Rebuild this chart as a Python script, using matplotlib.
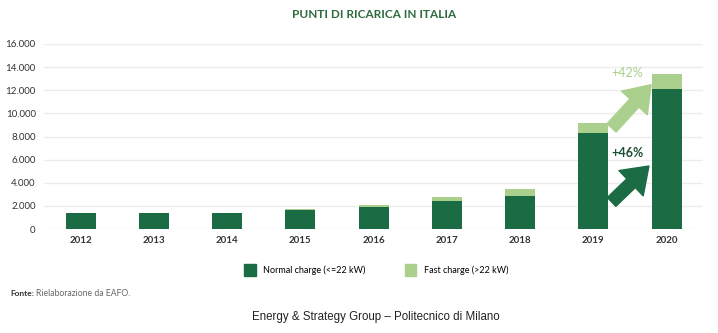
import matplotlib.pyplot as plt
import numpy as np
from matplotlib.patches import Patch

years = ['2012', '2013', '2014', '2015', '2016', '2017', '2018', '2019', '2020']
normal = [1350, 1350, 1350, 1650, 1900, 2400, 2850, 8300, 12150]
fast = [0, 0, 0, 50, 180, 350, 600, 900, 1280]
yticks = [0, 2000, 4000, 6000, 8000, 10000, 12000, 14000, 16000]
ytick_labels = ['0', '2.000', '4.000', '6.000', '8.000', '10.000', '12.000', '14.000', '16.000']

DARK = '#1b6b45'
LIGHT = '#abd08e'
TITLE = '#2e6a3f'

plt.rcParams['font.family'] = ['Lato', 'DejaVu Sans']

fig = plt.figure(figsize=(7.18, 3.33), dpi=100)
ax = fig.add_axes([0.0613, 0.312, 0.918, 0.556])

x = np.arange(len(years))
normal = np.array(normal)
fast = np.array(fast)
ax.bar(x, normal, width=0.41, color=DARK, zorder=2)
ax.bar(x, fast, width=0.41, bottom=normal, color=LIGHT, zorder=2)

ax.set_xlim(-0.5, len(years) - 0.5)
ax.set_ylim(0, 16000)
ax.set_yticks(yticks)
ax.set_yticklabels(ytick_labels, fontsize=7, color='#333333')
ax.set_xticks(x)
ax.set_xticklabels(years, fontsize=7, color='#333333', fontweight='bold')
ax.tick_params(length=0, pad=5)
ax.tick_params(axis='y', pad=6)
ax.grid(axis='y', color='#ececec', linewidth=1, zorder=0)
for s in ax.spines.values():
    s.set_visible(False)

# growth arrows between 2019 and 2020
tot = normal + fast
astyle = 'simple,head_length=0.85,head_width=1.2,tail_width=0.42'
ax.annotate('', xy=(7.79, tot[8] - 950), xytext=(7.25, tot[7] - 450),
            arrowprops=dict(arrowstyle=astyle, color=LIGHT, mutation_scale=21,
                            shrinkA=0, shrinkB=0))
ax.annotate('', xy=(7.76, normal[7] - 2850), xytext=(7.25, normal[7] - 5950),
            arrowprops=dict(arrowstyle=astyle, color=DARK, mutation_scale=21,
                            shrinkA=0, shrinkB=0))
g_fast = round((fast[8] / fast[7] - 1) * 100)
g_norm = round((normal[8] / normal[7] - 1) * 100)
ax.text(7.47, 13450, f'+{g_fast}%', color=LIGHT, fontsize=9, ha='center', va='center')
ax.text(7.47, 6550, f'+{g_norm}%', color='#1f4f37', fontsize=9, ha='center', va='center',
        fontweight='bold')

ax.set_title('PUNTI DI RICARICA IN ITALIA', fontsize=8.5, fontweight='bold',
             color=TITLE, pad=19)

handles = [Patch(color=DARK, label='Normal charge (<=22 kW)'),
           Patch(color=LIGHT, label='Fast charge (>22 kW)')]
fig.legend(handles=handles, loc='center', bbox_to_anchor=(0.524, 0.19), ncol=2,
           frameon=False, fontsize=6.5, handlelength=1.3, handleheight=1.6,
           columnspacing=4.3, handletextpad=0.8)

fig.text(0.014, 0.12, 'Fonte:', fontsize=6, fontweight='bold', color='#333333', va='center')
fig.text(0.0505, 0.12, 'Rielaborazione da EAFO.', fontsize=6.2, color='#666666', va='center')
fig.text(0.523, 0.048, 'Energy & Strategy Group \u2013 Politecnico di Milano', ha='center',
         va='center', fontsize=8.3, color='#222222', family=['Liberation Sans'])

fig.savefig('out.png', dpi=100)
